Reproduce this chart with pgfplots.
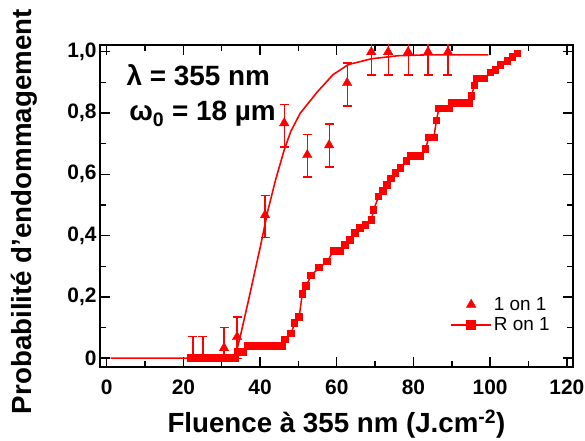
\documentclass[border=0pt]{standalone}
\usepackage{fontspec}
\setmainfont{Liberation Sans}
\usepackage{pgfplots}
\pgfplotsset{compat=1.18}
\pgfplotsset{mylegimg/.style={legend image code/.code={\draw[##1, mark repeat=2, mark phase=2] plot coordinates {(0bp,0bp) (20bp,0bp) (40bp,0bp)};}},
  mylegimgb/.style={legend image code/.code={\draw[##1, mark repeat=2, mark phase=2, mark size=4.5bp] plot coordinates {(0bp,0bp) (20bp,0bp) (40bp,0bp)};}}}
\begin{document}
\begin{tikzpicture}
\useasboundingbox (-100bp,-74.3bp) rectangle (485bp,366.7bp);
\begin{axis}[
  at={(0,0)}, anchor=south west,
  scale only axis, width=473bp, height=321.7bp,
  xmin=-1.75, xmax=121.6, ymin=-0.028, ymax=1.022,
  xtick={0,20,...,120}, ytick={0,0.2,0.4,0.6,0.8,1.0},
  yticklabels={0,{0,2},{0,4},{0,6},{0,8},{1,0}},
  minor x tick num=1, minor y tick num=1,
  tick align=inside,
  major tick length=10bp, minor tick length=6bp,
  every tick/.style={black, line width=1.4bp},
  axis line style={line width=1.6bp},
  tick label style={font=\fontsize{21}{25}\selectfont\bfseries},
  xticklabel shift=10bp,
  /pgf/number format/assume math mode=true,
  xlabel={Fluence à 355 nm (J.cm\textsuperscript{-2})},
  ylabel={Probabilité d'endommagement},
  label style={font=\fontsize{27.8}{32}\selectfont\bfseries},
  xlabel style={at={(axis description cs:0.5,0)}, anchor=base, yshift=-66bp},
  ylabel style={at={(axis description cs:-0.1438,0.482)}, anchor=base},
  legend style={draw=none, fill=none, font=\fontsize{19}{22}\selectfont,
    at={(axis cs:88.8,0.212)}, anchor=north west, row sep=2bp},
  legend cell align=left,
]
\addplot[only marks, red, mark=triangle*, mark size=5.5bp, mylegimg,
  error bars/.cd, y dir=both, y explicit,
  error bar style={line width=1.2bp, red},
  error mark options={rotate=90, mark size=4.5bp, line width=1.2bp, red}]
  table[x=x, y=y, y error plus=ep, y error minus=em] {
x y ep em
22.5 0.0 0.07 0.01
25.1 0.0 0.07 0.01
30.6 0.033 0.068 0.033
34.0 0.069 0.065 0.069
41.3 0.467 0.065 0.072
46.3 0.767 0.06 0.078
52.3 0.663 0.068 0.072
58.0 0.695 0.069 0.071
62.7 0.898 0.065 0.075
69.0 0.999 0.075 0.075
73.4 0.999 0.075 0.075
78.6 0.999 0.075 0.075
83.8 0.999 0.075 0.075
89.0 0.999 0.075 0.075
};
\addlegendentry{1 on 1}
\addplot[red, line width=1.5bp, mark=square*, mark size=3bp, mark options={solid}, mylegimgb]
  table {
21.8 0
23 0
24.5 0
26 0
27.5 0
29 0
30.5 0
32 0
33.5 0
34.3 0.02
35.5 0.02
36.8 0.04
38 0.04
39.3 0.04
40.6 0.04
41.9 0.04
43.2 0.04
44.5 0.04
45.7 0.04
46.5 0.06
48.1 0.08
49 0.115
50.2 0.135
51 0.21
52 0.235
53.3 0.27
55.4 0.295
57.5 0.315
59.1 0.35
60 0.35
61 0.35
62.2 0.37
63.5 0.386
64.8 0.408
66.1 0.425
67.5 0.435
69 0.45
69.6 0.484
70.9 0.527
72.1 0.545
73.1 0.565
74.2 0.587
75.3 0.605
76.6 0.621
78.2 0.643
79.2 0.66
80.5 0.66
81.8 0.66
83.1 0.682
84 0.72
85.3 0.72
86 0.776
86.6 0.814
87.9 0.814
89.2 0.814
90.1 0.833
91.2 0.833
92.3 0.833
93.4 0.833
94.5 0.833
95.1 0.855
95.9 0.89
96.6 0.913
97.5 0.913
98.4 0.913
100.1 0.932
101.4 0.94
102.7 0.956
104.5 0.97
105.8 0.983
107.1 0.995
};
\addlegendentry{R on 1}
\addplot[red, line width=1.6bp, forget plot] coordinates {
(1,0) (33,0) (34,0.03) (35,0.08) (37,0.19) (40,0.36) (42,0.48) (44,0.58)
(46.3,0.68) (48,0.74) (50.5,0.80) (55,0.87) (59,0.925) (63,0.958)
(69,0.977) (76,0.987) (84,0.99) (99.5,0.99)
};
\node[anchor=base west, font=\fontsize{28}{32}\selectfont\bfseries] at (axis cs:4.25,0.891) {λ = 355 nm};
\node[anchor=base west, font=\fontsize{28}{32}\selectfont\bfseries] at (axis cs:5,0.774) {ω\textsubscript{0} = 18 µm};
\end{axis}
\end{tikzpicture}
\end{document}
